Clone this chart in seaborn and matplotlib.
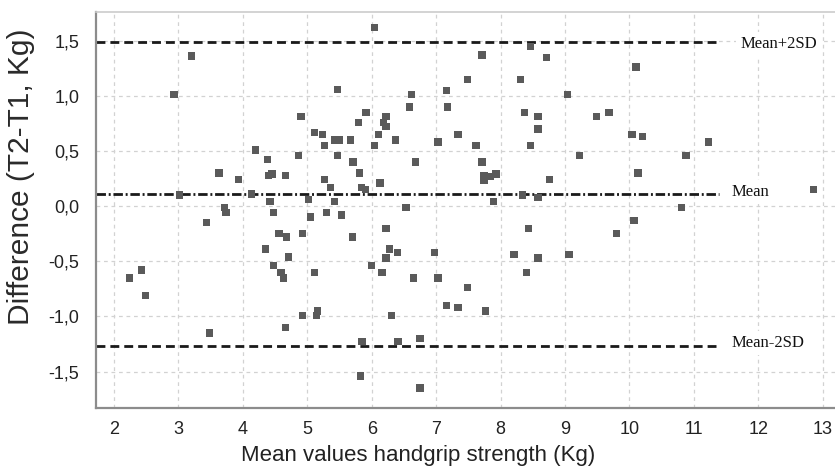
import matplotlib
matplotlib.use("Agg")
import matplotlib.pyplot as plt
import seaborn as sns
import pandas as pd
from matplotlib.ticker import FuncFormatter

mean_values = [
    3.20, 2.93, 5.47, 4.90, 5.11, 5.24, 5.43, 5.50, 5.27, 5.47,
    4.20, 4.38, 4.86, 3.63, 3.93, 4.40, 4.45, 4.66, 5.27, 5.36,
    3.02, 4.13, 5.02, 4.42, 5.42, 3.71, 3.74, 4.47, 5.30, 5.05,
    5.53, 3.44, 4.56, 4.68, 4.93, 4.35, 4.71, 4.47, 4.59, 4.63,
    5.11, 2.24, 2.43, 2.49, 4.93, 5.14, 5.16, 4.66, 3.48,
    6.04, 8.46, 7.71, 8.71, 7.49, 8.31, 7.16, 6.62, 9.04, 6.59,
    7.18, 5.91, 5.79, 6.22, 6.18, 6.22, 8.37, 8.58, 8.58, 6.10,
    5.67, 6.37, 7.03, 7.34, 6.04, 7.62, 8.46, 9.22, 5.71, 6.68,
    7.71, 5.81, 6.13, 7.74, 7.74, 7.84, 7.93, 8.76, 5.84, 5.90,
    8.34, 8.58, 7.89, 6.53, 5.70, 6.22, 6.28, 6.22, 6.40, 6.00,
    6.16, 6.65, 6.97, 7.03, 7.49, 7.16, 7.34, 7.77, 6.31, 8.43,
    8.21, 8.58, 9.06, 8.40, 5.85, 6.41, 6.75, 5.83, 6.75,
    10.10, 9.49, 9.68, 10.04, 10.20, 11.23, 10.88, 10.13, 12.86, 10.81,
    10.07, 9.80,
]
differences = [
    1.36, 1.01, 1.06, 0.81, 0.67, 0.65, 0.60, 0.60, 0.55, 0.46,
    0.51, 0.42, 0.46, 0.30, 0.24, 0.28, 0.29, 0.28, 0.24, 0.17,
    0.10, 0.11, 0.06, 0.04, 0.04, -0.01, -0.06, -0.06, -0.06, -0.10,
    -0.08, -0.15, -0.25, -0.28, -0.25, -0.39, -0.46, -0.54, -0.60, -0.65,
    -0.60, -0.65, -0.58, -0.81, -0.99, -0.99, -0.95, -1.10, -1.15,
    1.62, 1.45, 1.37, 1.35, 1.15, 1.15, 1.05, 1.01, 1.01, 0.90,
    0.90, 0.85, 0.76, 0.81, 0.76, 0.72, 0.85, 0.81, 0.70, 0.65,
    0.60, 0.60, 0.58, 0.65, 0.55, 0.55, 0.55, 0.46, 0.40, 0.40,
    0.40, 0.30, 0.21, 0.28, 0.23, 0.27, 0.29, 0.24, 0.17, 0.15,
    0.10, 0.08, 0.04, -0.01, -0.28, -0.20, -0.39, -0.47, -0.42, -0.54,
    -0.60, -0.65, -0.42, -0.65, -0.74, -0.90, -0.92, -0.95, -0.99, -0.20,
    -0.44, -0.47, -0.44, -0.60, -1.23, -1.23, -1.20, -1.54, -1.65,
    1.26, 0.81, 0.85, 0.65, 0.63, 0.58, 0.46, 0.30, 0.15, -0.01,
    -0.13, -0.25,
]

# Reference lines
line_names = ["Mean+2SD", "Mean", "Mean-2SD"]
line_values = [1.49, 0.11, -1.27]

x_ticks = [2, 3, 4, 5, 6, 7, 8, 9, 10, 11, 12, 13]
y_ticks = [-1.5, -1.0, -0.5, 0.0, 0.5, 1.0, 1.5]

df = pd.DataFrame({"mean": mean_values, "diff": differences})

sns.set_style("white")
plt.rcParams["font.family"] = ["Liberation Sans", "DejaVu Sans"]

fig = plt.figure(figsize=(8.35, 4.74), dpi=100)
ax = fig.add_axes([96 / 835, 1 - 408 / 474, 739 / 835, 396 / 474])

ax.grid(True, color="#d2d2d2", linestyle=(0, (3, 3)), linewidth=0.9)
ax.set_axisbelow(True)

sns.scatterplot(data=df, x="mean", y="diff", marker="s", s=28,
                color="#5a5a5a", edgecolor="none", linewidth=0, ax=ax, zorder=3)

ax.set_xlim(1.72, 13.19)
ax.set_ylim(-1.83, 1.76)

x_end = 11.39
styles = [(3.2, 1.8), (3.4, 1.0, 0.7, 1.0), (3.2, 1.8)]
label_x = [11.72, 11.58, 11.58]
label_y = [1.47, 0.13, -1.24]
for name, val, dash, lx, ly in zip(line_names, line_values, styles, label_x, label_y):
    ax.plot([1.72, x_end], [val, val], color="#1a1a1a", linewidth=2,
            dashes=dash, zorder=2)
    ax.text(lx, ly, name, family="Liberation Serif", fontsize=12, color="#111111",
            va="center", ha="left", zorder=4,
            bbox=dict(facecolor="white", edgecolor="none", pad=3))

ax.set_xticks(x_ticks)
ax.set_yticks(y_ticks)
ax.yaxis.set_major_formatter(FuncFormatter(lambda v, _: f"{v:.1f}".replace(".", ",")))
ax.tick_params(axis="both", length=4, width=1, color="#999999", labelsize=13,
               labelcolor="#222222")
ax.tick_params(axis="x", pad=5)
ax.tick_params(axis="y", pad=8)

for side in ["left", "bottom"]:
    ax.spines[side].set_color("#8c8c8c")
    ax.spines[side].set_linewidth(1.6)
ax.spines["top"].set_color("#cccccc")
ax.spines["top"].set_linewidth(1.2)
ax.spines["right"].set_visible(False)

ax.set_xlabel("Mean values handgrip strength (Kg)", fontsize=16, color="#222222")
ax.set_ylabel("Difference (T2-T1, Kg)", fontsize=21.5, color="#2a2a2a")
ax.xaxis.set_label_coords(0.436, -0.093)
ax.yaxis.set_label_coords(-0.083, 0.585)

plt.savefig("out.png", dpi=100)
